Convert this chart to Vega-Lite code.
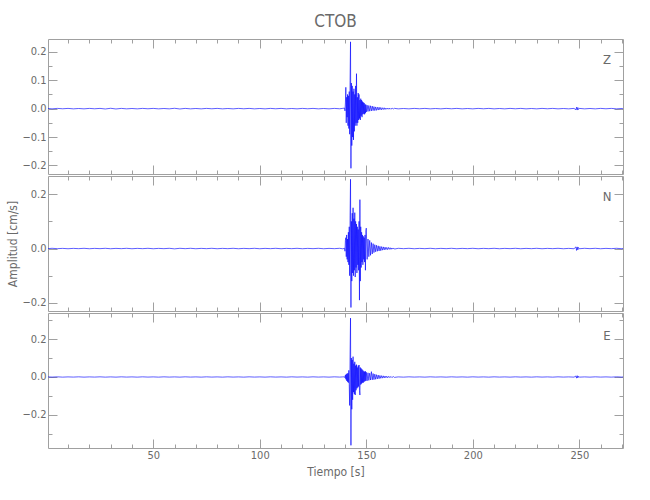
{
  "$schema": "https://vega.github.io/schema/vega-lite/v6.json",
  "background": "white",
  "padding": {"left": 6, "top": 12, "right": 5, "bottom": 5},
  "spacing": 0,
  "config": {
    "font": "Liberation Sans Narrow, DejaVu Sans Condensed, Roboto Condensed, Roboto, sans-serif",
    "view": {"stroke": "#a0a0a0", "strokeWidth": 1},
    "axis": {"domain": false, "grid": false, "tickColor": "#a0a0a0", "tickWidth": 1, "labelColor": "#6a6a6a", "labelFontSize": 11, "titleColor": "#6a6a6a", "titleFontWeight": "normal", "titleFontSize": 12, "labelFlush": false, "labelOverlap": false},
    "title": {"color": "#6a6a6a", "fontSize": 17, "fontWeight": "normal"}
  },
  "datasets": {
    "s": [
      {"t":0.6,"z":0.0005,"n":-0.0005,"e":0.0005},
      {"t":2.5,"z":-0.0008,"n":0.0008,"e":-0.0005},
      {"t":5,"z":0.0008,"n":-0.0005,"e":0.0008},
      {"t":7.5,"z":-0.0005,"n":0.0005,"e":-0.0008},
      {"t":10,"z":0.0008,"n":-0.0008,"e":0.0005},
      {"t":12.5,"z":-0.0008,"n":0.0005,"e":-0.0005},
      {"t":15,"z":0.0005,"n":-0.0005,"e":0.0008},
      {"t":17.5,"z":-0.0008,"n":0.0008,"e":-0.0008},
      {"t":20,"z":0.0008,"n":-0.0008,"e":0.0005},
      {"t":22.5,"z":-0.0005,"n":0.0005,"e":-0.0005},
      {"t":25,"z":0.0008,"n":-0.0005,"e":0.0008},
      {"t":27.5,"z":-0.0012,"n":0.0008,"e":-0.0008},
      {"t":30,"z":0.0012,"n":-0.0008,"e":0.0005},
      {"t":32.5,"z":-0.0012,"n":0.0005,"e":-0.0008},
      {"t":35,"z":0.0008,"n":-0.0005,"e":0.0008},
      {"t":37.5,"z":-0.0008,"n":0.0008,"e":-0.0005},
      {"t":40,"z":0.0005,"n":-0.0008,"e":0.0005},
      {"t":42.5,"z":-0.0008,"n":0.0005,"e":-0.0008},
      {"t":45,"z":0.0008,"n":-0.0005,"e":0.0008},
      {"t":47.5,"z":-0.0005,"n":0.0008,"e":-0.0005},
      {"t":50,"z":0.0008,"n":-0.0008,"e":0.0005},
      {"t":52.5,"z":-0.0008,"n":0.0005,"e":-0.0008},
      {"t":55,"z":0.0005,"n":-0.0005,"e":0.0008},
      {"t":57.5,"z":-0.0008,"n":0.0008,"e":-0.0005},
      {"t":60,"z":0.0012,"n":-0.0012,"e":0.0005},
      {"t":62.5,"z":-0.0012,"n":0.0008,"e":-0.0008},
      {"t":65,"z":0.0008,"n":-0.0005,"e":0.0008},
      {"t":67.5,"z":-0.0008,"n":0.0008,"e":-0.0005},
      {"t":70,"z":0.0005,"n":-0.0008,"e":0.0005},
      {"t":72.5,"z":-0.0008,"n":0.0005,"e":-0.0008},
      {"t":75,"z":0.0008,"n":-0.0005,"e":0.0008},
      {"t":77.5,"z":-0.0005,"n":0.0008,"e":-0.0005},
      {"t":80,"z":0.0008,"n":-0.0008,"e":0.0005},
      {"t":82.5,"z":-0.0008,"n":0.0005,"e":-0.0008},
      {"t":85,"z":0.0005,"n":-0.0005,"e":0.0008},
      {"t":87.5,"z":-0.0008,"n":0.0008,"e":-0.0005},
      {"t":90,"z":0.0008,"n":-0.0008,"e":0.0005},
      {"t":92.5,"z":-0.0005,"n":0.0005,"e":-0.0008},
      {"t":95,"z":0.0008,"n":-0.0005,"e":0.0008},
      {"t":97.5,"z":-0.0008,"n":0.0008,"e":-0.0005},
      {"t":100,"z":0.0005,"n":-0.0008,"e":0.0005},
      {"t":102.5,"z":-0.0008,"n":0.0005,"e":-0.0008},
      {"t":105,"z":0.0008,"n":-0.0005,"e":0.0008},
      {"t":107.5,"z":-0.0005,"n":0.0008,"e":-0.0005},
      {"t":110,"z":0.0008,"n":-0.0008,"e":0.0005},
      {"t":112.5,"z":-0.0008,"n":0.0005,"e":-0.0008},
      {"t":115,"z":0.0005,"n":-0.0005,"e":0.0008},
      {"t":117.5,"z":-0.0008,"n":0.0008,"e":-0.0005},
      {"t":120,"z":0.0008,"n":-0.0008,"e":0.0005},
      {"t":122.5,"z":-0.0005,"n":0.0005,"e":-0.0008},
      {"t":125,"z":0.0008,"n":-0.0005,"e":0.0008},
      {"t":127.5,"z":-0.0008,"n":0.0008,"e":-0.0005},
      {"t":130,"z":0.0005,"n":-0.0008,"e":0.0005},
      {"t":132.5,"z":-0.0008,"n":0.0005,"e":-0.0008},
      {"t":135,"z":0.0008,"n":-0.0005,"e":0.0008},
      {"t":137.5,"z":-0.0005,"n":0.0008,"e":-0.0005},
      {"t":139.0,"z":0.001,"n":-0.001,"e":0.0005},
      {"t":139.8,"z":0.002,"n":0.001,"e":0.001},
      {"t":140.0,"z":-0.008,"n":-0.01,"e":-0.004},
      {"t":140.2,"z":0.02,"n":0.03,"e":0.01},
      {"t":140.4,"z":0.075,"n":0.04,"e":-0.012},
      {"t":140.6,"z":-0.05,"n":-0.03,"e":0.015},
      {"t":140.8,"z":0.04,"n":0.05,"e":-0.02},
      {"t":141.0,"z":-0.03,"n":-0.04,"e":0.018},
      {"t":141.2,"z":0.05,"n":0.035,"e":-0.025},
      {"t":141.4,"z":-0.06,"n":-0.05,"e":0.02},
      {"t":141.6,"z":0.045,"n":0.06,"e":-0.03},
      {"t":141.8,"z":-0.07,"n":-0.06,"e":0.035},
      {"t":142.0,"z":0.06,"n":0.08,"e":-0.04},
      {"t":142.2,"z":-0.09,"n":-0.1,"e":-0.15},
      {"t":142.4,"z":0.1,"n":0.12,"e":0.12},
      {"t":142.6,"z":0.235,"n":0.255,"e":0.31},
      {"t":142.8,"z":-0.21,"n":-0.217,"e":-0.36},
      {"t":143.0,"z":0.09,"n":0.1,"e":0.1},
      {"t":143.2,"z":-0.13,"n":-0.12,"e":-0.17},
      {"t":143.4,"z":0.08,"n":0.13,"e":0.09},
      {"t":143.6,"z":-0.1,"n":-0.09,"e":-0.12},
      {"t":143.8,"z":0.06,"n":0.15,"e":0.107},
      {"t":144.0,"z":-0.11,"n":-0.1,"e":-0.08},
      {"t":144.2,"z":0.07,"n":0.11,"e":0.07},
      {"t":144.4,"z":-0.08,"n":-0.08,"e":-0.09},
      {"t":144.6,"z":0.05,"n":0.132,"e":0.08},
      {"t":144.8,"z":-0.06,"n":-0.105,"e":-0.095},
      {"t":145.0,"z":0.08,"n":0.1,"e":0.06},
      {"t":145.2,"z":-0.05,"n":-0.07,"e":-0.07},
      {"t":145.4,"z":0.123,"n":0.09,"e":0.065},
      {"t":145.6,"z":-0.06,"n":-0.09,"e":-0.06},
      {"t":145.8,"z":0.04,"n":0.08,"e":0.05},
      {"t":146.0,"z":-0.05,"n":-0.06,"e":-0.055},
      {"t":146.2,"z":0.055,"n":0.07,"e":0.06},
      {"t":146.4,"z":-0.04,"n":-0.08,"e":-0.05},
      {"t":146.6,"z":0.05,"n":0.1,"e":0.063},
      {"t":146.8,"z":-0.035,"n":-0.19,"e":-0.07},
      {"t":147.0,"z":0.03,"n":0.18,"e":-0.095},
      {"t":147.2,"z":-0.04,"n":-0.12,"e":0.05},
      {"t":147.4,"z":0.035,"n":0.08,"e":-0.04},
      {"t":147.6,"z":-0.025,"n":-0.07,"e":0.045},
      {"t":147.8,"z":0.03,"n":0.06,"e":-0.035},
      {"t":148.0,"z":-0.03,"n":-0.05,"e":0.04},
      {"t":148.2,"z":0.025,"n":0.05,"e":-0.03},
      {"t":148.4,"z":-0.02,"n":-0.06,"e":0.035},
      {"t":148.6,"z":0.022,"n":0.045,"e":-0.03},
      {"t":148.8,"z":-0.018,"n":-0.04,"e":0.03},
      {"t":149.0,"z":0.02,"n":0.04,"e":-0.025},
      {"t":149.2,"z":-0.02,"n":-0.05,"e":0.028},
      {"t":149.4,"z":0.015,"n":0.05,"e":-0.022},
      {"t":149.6,"z":-0.016,"n":-0.08,"e":0.03},
      {"t":149.8,"z":0.014,"n":0.065,"e":-0.02},
      {"t":150.0,"z":-0.012,"n":0.075,"e":0.025},
      {"t":150.4,"z":0.012,"n":-0.04,"e":-0.02},
      {"t":150.8,"z":-0.01,"n":0.035,"e":0.022},
      {"t":151.2,"z":0.011,"n":-0.03,"e":-0.018},
      {"t":151.6,"z":-0.009,"n":0.03,"e":0.02},
      {"t":152.0,"z":0.01,"n":-0.025,"e":-0.016},
      {"t":152.4,"z":-0.008,"n":0.022,"e":0.028},
      {"t":152.8,"z":0.009,"n":-0.02,"e":-0.015},
      {"t":153.2,"z":-0.007,"n":0.018,"e":0.018},
      {"t":153.6,"z":0.007,"n":-0.015,"e":-0.014},
      {"t":154.0,"z":-0.007,"n":0.014,"e":0.015},
      {"t":154.4,"z":0.006,"n":-0.012,"e":-0.012},
      {"t":154.8,"z":-0.006,"n":0.012,"e":0.012},
      {"t":155.2,"z":0.005,"n":-0.01,"e":-0.01},
      {"t":155.6,"z":-0.005,"n":0.01,"e":0.01},
      {"t":156.0,"z":0.005,"n":-0.009,"e":-0.009},
      {"t":156.4,"z":-0.004,"n":0.008,"e":0.008},
      {"t":156.8,"z":0.004,"n":-0.008,"e":-0.007},
      {"t":157.2,"z":-0.004,"n":0.007,"e":0.007},
      {"t":157.6,"z":0.003,"n":-0.006,"e":-0.006},
      {"t":158.0,"z":-0.003,"n":0.006,"e":0.006},
      {"t":158.4,"z":0.003,"n":-0.005,"e":-0.005},
      {"t":158.8,"z":-0.003,"n":0.005,"e":0.005},
      {"t":159.2,"z":0.002,"n":-0.004,"e":-0.004},
      {"t":159.6,"z":-0.002,"n":0.004,"e":0.004},
      {"t":160.0,"z":0.002,"n":-0.004,"e":-0.004},
      {"t":160.4,"z":-0.002,"n":0.004,"e":0.003},
      {"t":160.8,"z":0.002,"n":-0.003,"e":-0.003},
      {"t":161.2,"z":-0.002,"n":0.003,"e":0.003},
      {"t":161.6,"z":0.001,"n":-0.003,"e":-0.003},
      {"t":162.0,"z":-0.001,"n":0.002,"e":0.002},
      {"t":162.4,"z":0.001,"n":-0.002,"e":-0.002},
      {"t":162.8,"z":-0.001,"n":0.002,"e":0.002},
      {"t":163.2,"z":0.001,"n":-0.002,"e":-0.002},
      {"t":165,"z":-0.0008,"n":0.0008,"e":0.0005},
      {"t":167.5,"z":0.0005,"n":-0.0005,"e":-0.0008},
      {"t":170,"z":-0.0008,"n":0.0008,"e":0.0008},
      {"t":172.5,"z":0.0008,"n":-0.0008,"e":-0.0005},
      {"t":175,"z":-0.0005,"n":0.0005,"e":0.0005},
      {"t":177.5,"z":0.0008,"n":-0.0005,"e":-0.0008},
      {"t":180,"z":-0.0008,"n":0.0008,"e":0.0008},
      {"t":182.5,"z":0.0005,"n":-0.0008,"e":-0.0005},
      {"t":185,"z":-0.0008,"n":0.0005,"e":0.0005},
      {"t":187.5,"z":0.0008,"n":-0.0005,"e":-0.0008},
      {"t":190,"z":-0.0005,"n":0.0008,"e":0.0008},
      {"t":192.5,"z":0.0008,"n":-0.0008,"e":-0.0005},
      {"t":195,"z":-0.0008,"n":0.0005,"e":0.0005},
      {"t":197.5,"z":0.0005,"n":-0.0005,"e":-0.0008},
      {"t":200,"z":-0.0008,"n":0.0008,"e":0.0008},
      {"t":202.5,"z":0.0008,"n":-0.0008,"e":-0.0005},
      {"t":205,"z":-0.0005,"n":0.0005,"e":0.0005},
      {"t":207.5,"z":0.0008,"n":-0.0005,"e":-0.0008},
      {"t":210,"z":-0.0008,"n":0.0008,"e":0.0008},
      {"t":212.5,"z":0.0005,"n":-0.0008,"e":-0.0005},
      {"t":215,"z":-0.0008,"n":0.0005,"e":0.0005},
      {"t":217.5,"z":0.0008,"n":-0.0005,"e":-0.0008},
      {"t":220,"z":-0.0005,"n":0.0008,"e":0.0008},
      {"t":222.5,"z":0.0008,"n":-0.0008,"e":-0.0005},
      {"t":225,"z":-0.0008,"n":0.0005,"e":0.0005},
      {"t":227.5,"z":0.0005,"n":-0.0005,"e":-0.0008},
      {"t":230,"z":-0.0008,"n":0.0008,"e":0.0008},
      {"t":232.5,"z":0.0008,"n":-0.0008,"e":-0.0005},
      {"t":235,"z":-0.0005,"n":0.0005,"e":0.0005},
      {"t":237.5,"z":0.0008,"n":-0.0005,"e":-0.0008},
      {"t":240,"z":-0.0008,"n":0.0008,"e":0.0008},
      {"t":242.5,"z":0.0005,"n":-0.0008,"e":-0.0005},
      {"t":245,"z":-0.0008,"n":0.0005,"e":0.0005},
      {"t":247.5,"z":0.0008,"n":-0.0008,"e":-0.0008},
      {"t":248.4,"z":-0.004,"n":0.006,"e":0.005},
      {"t":248.7,"z":0.005,"n":-0.007,"e":-0.006},
      {"t":249.0,"z":-0.005,"n":0.006,"e":0.007},
      {"t":249.3,"z":0.004,"n":-0.005,"e":-0.005},
      {"t":249.6,"z":-0.003,"n":0.004,"e":0.004},
      {"t":250,"z":0.0008,"n":-0.0008,"e":-0.0008},
      {"t":252.5,"z":-0.0008,"n":0.0008,"e":0.0005},
      {"t":255,"z":0.0005,"n":-0.0005,"e":-0.0008},
      {"t":257.5,"z":-0.0008,"n":0.0008,"e":0.0008},
      {"t":260,"z":0.0008,"n":-0.0008,"e":-0.0005},
      {"t":262.5,"z":-0.0005,"n":0.0005,"e":0.0005},
      {"t":265,"z":0.0008,"n":-0.0005,"e":-0.0008},
      {"t":267.5,"z":-0.0008,"n":0.0008,"e":0.0008},
      {"t":270,"z":0.0005,"n":-0.0008,"e":-0.0005},
      {"t":270.5,"z":-0.0005,"n":0.0005,"e":0.0005}
    ]
  },
  "vconcat": [
    {
      "width": 575, "height": 135,
      "title": {"text": "CTOB", "anchor": "middle", "frame": "group", "offset": 8},
      "layer": [
        {
          "data": {"name": "s"},
          "mark": {"type": "line", "color": "#0000ff", "strokeWidth": 0.7, "opacity": 0.9},
          "encoding": {
            "x": {"field": "t", "type": "quantitative", "scale": {"domain": [0.6, 270.5], "nice": false, "zero": false},
                  "axis": {"orient": "bottom", "title": null, "labels": false, "values": [10,20,30,40,50,60,70,80,90,100,110,120,130,140,150,160,170,180,190,200,210,220,230,240,250,260,270],
                           "tickSize": {"condition": {"test": "datum.value % 50 === 0", "value": -9}, "value": -4}}},
            "y": {"field": "z", "type": "quantitative", "scale": {"domain": [-0.23, 0.245], "nice": false, "zero": false},
                  "axis": {"orient": "left", "title": null, "values": [-0.2,-0.15,-0.1,-0.05,0,0.05,0.1,0.15,0.2],
                           "labelExpr": "round(datum.value*100) % 10 === 0 ? format(datum.value, '.1f') : ''",
                           "tickSize": {"condition": {"test": "round(datum.value*100) % 10 === 0", "value": -9}, "value": -4},
                           "labelPadding": 11}}
          }
        },
        {
          "data": {"values": [{"lab": "Z"}]},
          "mark": {"type": "text", "color": "#6a6a6a", "fontSize": 13, "align": "center", "baseline": "middle"},
          "encoding": {
            "x": {"datum": 263, "type": "quantitative", "scale": {"domain": [0.6, 270.5], "nice": false, "zero": false},
                  "axis": {"orient": "top", "title": null, "labels": false, "values": [10,20,30,40,50,60,70,80,90,100,110,120,130,140,150,160,170,180,190,200,210,220,230,240,250,260,270],
                           "tickSize": {"condition": {"test": "datum.value % 50 === 0", "value": -9}, "value": -4}}},
            "y": {"datum": 0.172, "type": "quantitative", "scale": {"domain": [-0.23, 0.245], "nice": false, "zero": false},
                  "axis": {"orient": "right", "title": null, "labels": false, "values": [-0.2,-0.15,-0.1,-0.05,0,0.05,0.1,0.15,0.2],
                           "tickSize": {"condition": {"test": "round(datum.value*100) % 10 === 0", "value": -9}, "value": -4}}},
            "text": {"field": "lab"}
          }
        }
      ],
      "resolve": {"axis": {"x": "independent", "y": "independent"}}
    },
    {
      "width": 575, "height": 135,
      "layer": [
        {
          "data": {"name": "s"},
          "mark": {"type": "line", "color": "#0000ff", "strokeWidth": 0.7, "opacity": 0.9},
          "encoding": {
            "x": {"field": "t", "type": "quantitative", "scale": {"domain": [0.6, 270.5], "nice": false, "zero": false},
                  "axis": {"orient": "bottom", "title": null, "labels": false, "values": [10,20,30,40,50,60,70,80,90,100,110,120,130,140,150,160,170,180,190,200,210,220,230,240,250,260,270],
                           "tickSize": {"condition": {"test": "datum.value % 50 === 0", "value": -9}, "value": -4}}},
            "y": {"field": "n", "type": "quantitative", "scale": {"domain": [-0.23, 0.267], "nice": false, "zero": false},
                  "axis": {"orient": "left", "title": "Amplitud [cm/s]", "titlePadding": 2, "values": [-0.2,-0.1,0,0.1,0.2],
                           "labelExpr": "round(datum.value*100) % 20 === 0 ? format(datum.value, '.1f') : ''",
                           "tickSize": {"condition": {"test": "round(datum.value*100) % 20 === 0", "value": -9}, "value": -4},
                           "labelPadding": 11}}
          }
        },
        {
          "data": {"values": [{"lab": "N"}]},
          "mark": {"type": "text", "color": "#6a6a6a", "fontSize": 13, "align": "center", "baseline": "middle"},
          "encoding": {
            "x": {"datum": 263, "type": "quantitative", "scale": {"domain": [0.6, 270.5], "nice": false, "zero": false},
                  "axis": {"orient": "top", "title": null, "labels": false, "values": [10,20,30,40,50,60,70,80,90,100,110,120,130,140,150,160,170,180,190,200,210,220,230,240,250,260,270],
                           "tickSize": {"condition": {"test": "datum.value % 50 === 0", "value": -9}, "value": -4}}},
            "y": {"datum": 0.191, "type": "quantitative", "scale": {"domain": [-0.23, 0.267], "nice": false, "zero": false},
                  "axis": {"orient": "right", "title": null, "labels": false, "values": [-0.2,-0.1,0,0.1,0.2],
                           "tickSize": {"condition": {"test": "round(datum.value*100) % 20 === 0", "value": -9}, "value": -4}}},
            "text": {"field": "lab"}
          }
        }
      ],
      "resolve": {"axis": {"x": "independent", "y": "independent"}}
    },
    {
      "width": 575, "height": 135,
      "layer": [
        {
          "data": {"name": "s"},
          "mark": {"type": "line", "color": "#0000ff", "strokeWidth": 0.7, "opacity": 0.9},
          "encoding": {
            "x": {"field": "t", "type": "quantitative", "scale": {"domain": [0.6, 270.5], "nice": false, "zero": false},
                  "axis": {"orient": "bottom", "title": "Tiempo [s]", "titlePadding": 1, "values": [10,20,30,40,50,60,70,80,90,100,110,120,130,140,150,160,170,180,190,200,210,220,230,240,250,260,270],
                           "labelExpr": "datum.value % 50 === 0 ? datum.label : ''",
                           "tickSize": {"condition": {"test": "datum.value % 50 === 0", "value": -9}, "value": -4},
                           "labelPadding": 10}},
            "y": {"field": "e", "type": "quantitative", "scale": {"domain": [-0.374, 0.337], "nice": false, "zero": false},
                  "axis": {"orient": "left", "title": null, "values": [-0.3,-0.2,-0.1,0,0.1,0.2,0.3],
                           "labelExpr": "round(datum.value*100) % 20 === 0 ? format(datum.value, '.1f') : ''",
                           "tickSize": {"condition": {"test": "round(datum.value*100) % 20 === 0", "value": -9}, "value": -4},
                           "labelPadding": 11}}
          }
        },
        {
          "data": {"values": [{"lab": "E"}]},
          "mark": {"type": "text", "color": "#6a6a6a", "fontSize": 13, "align": "center", "baseline": "middle"},
          "encoding": {
            "x": {"datum": 263, "type": "quantitative", "scale": {"domain": [0.6, 270.5], "nice": false, "zero": false},
                  "axis": {"orient": "top", "title": null, "labels": false, "values": [10,20,30,40,50,60,70,80,90,100,110,120,130,140,150,160,170,180,190,200,210,220,230,240,250,260,270],
                           "tickSize": {"condition": {"test": "datum.value % 50 === 0", "value": -9}, "value": -4}}},
            "y": {"datum": 0.216, "type": "quantitative", "scale": {"domain": [-0.374, 0.337], "nice": false, "zero": false},
                  "axis": {"orient": "right", "title": null, "labels": false, "values": [-0.3,-0.2,-0.1,0,0.1,0.2,0.3],
                           "tickSize": {"condition": {"test": "round(datum.value*100) % 20 === 0", "value": -9}, "value": -4}}},
            "text": {"field": "lab"}
          }
        }
      ],
      "resolve": {"axis": {"x": "independent", "y": "independent"}}
    }
  ]
}
